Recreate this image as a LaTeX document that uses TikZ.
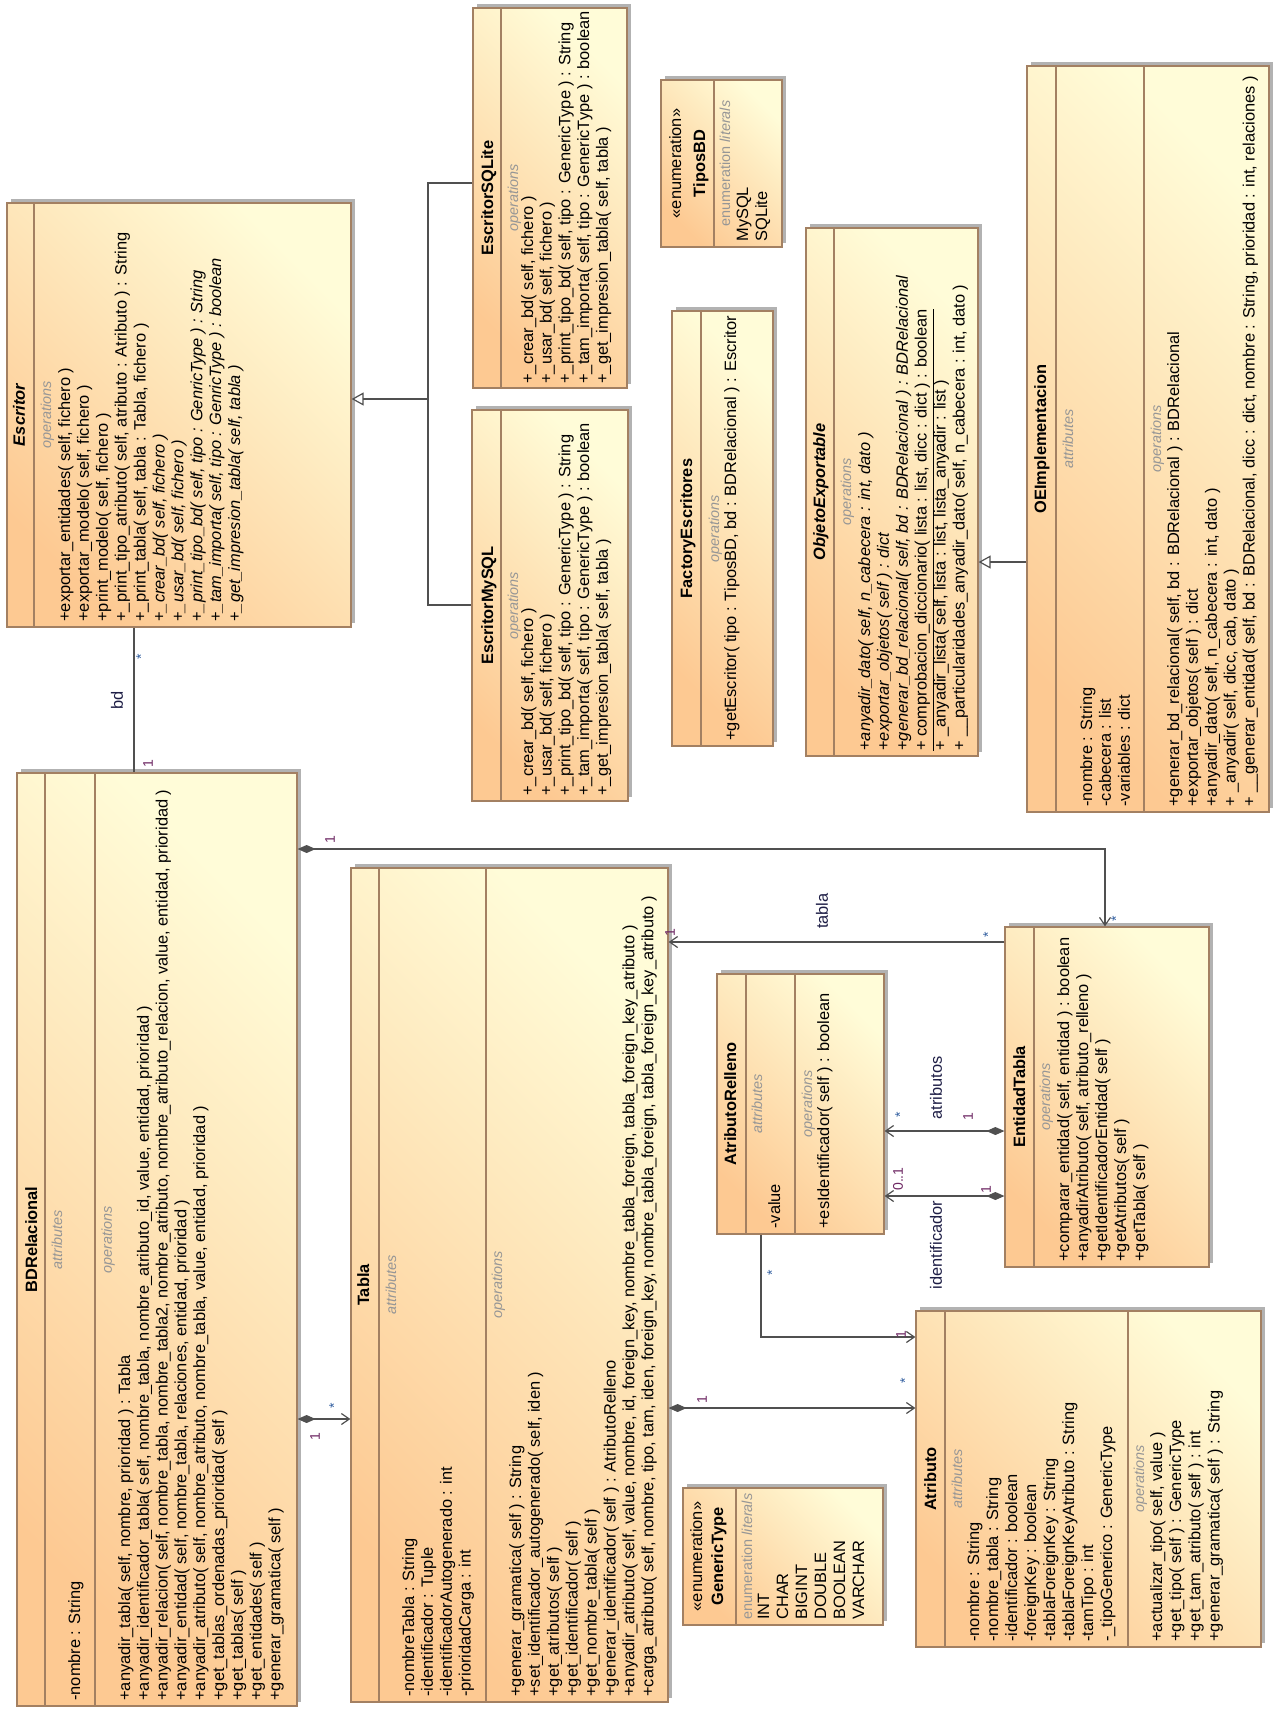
\documentclass[tikz,border=0pt]{standalone}
\usepackage{fontspec}
\setmainfont{Liberation Sans}
\usetikzlibrary{arrows.meta,fit,shadows}

\definecolor{boxlight}{RGB}{255,252,216}
\definecolor{boxdark}{RGB}{253,201,146}
\definecolor{boxline}{RGB}{163,128,98}
\definecolor{linegray}{RGB}{80,80,80}
\definecolor{labelgray}{RGB}{150,150,150}
\definecolor{multone}{RGB}{110,40,100}
\definecolor{multstar}{RGB}{50,95,160}
\definecolor{rolename}{RGB}{30,30,70}

\newcommand{\rowfont}{\fontsize{8.2}{9.5}\selectfont}
\newcommand{\secfont}{\fontsize{7.2}{8}\selectfont\itshape}

\tikzset{
  classbox/.style={draw=boxline, line width=0.6pt, inner sep=0pt,
    top color=boxlight, bottom color=boxdark, shading angle=-45,
    drop shadow={shadow xshift=1.8pt, shadow yshift=1.8pt, fill=black!30, opacity=1}},
  sepline/.style={draw=boxline, line width=0.6pt},
  umlrow/.style={rotate=90, anchor=base west, inner sep=0pt, font=\rowfont},
  clsname/.style={rotate=90, anchor=base, inner sep=0pt, font=\rowfont\bfseries},
  seclabel/.style={rotate=90, anchor=base, inner sep=0pt, font=\secfont, text=labelgray},
  role/.style={rotate=90, inner sep=0pt, font=\rowfont, text=rolename},
  mone/.style={rotate=90, inner sep=0pt, font=\fontsize{7}{8}\selectfont, text=multone},
  mmany/.style={rotate=90, inner sep=0pt, font=\fontsize{7}{8}\selectfont, text=multstar},
  assoc/.style={draw=linegray, line width=0.6pt},
  navig/.style={assoc, -{Straight Barb[length=4pt,width=5.5pt]}},
  compo/.style={assoc, {Diamond[length=9pt,width=4pt]}-{Straight Barb[length=4pt,width=5.5pt]}},
  inherit/.style={assoc, -{Triangle[open,length=6pt,width=6.5pt]}}
}

% rows of a compartment: name prefix, first baseline, step, start, list
\newcommand{\umlrows}[5]{%
  \foreach \txt [count=\i from 0] in {#5}
    \node[umlrow] (#1-\i) at ({#2+#3*\i},#4) {\txt};}

\begin{document}
\catcode`\_=12
\begin{tikzpicture}[x=0.5pt, y=-0.5pt]
\path[use as bounding box, fill=white] (0,0) rectangle (1273,1710);

% class boxes
\node[classbox, fit={(7,203) (351,627)}] (escritor) {};
\node[classbox, fit={(473,8) (627,388)}] (sqlite) {};
\node[classbox, fit={(472,410) (628,801)}] (mysql) {};
\node[classbox, fit={(672,311) (773,746)}] (factory) {};
\node[classbox, fit={(661,80) (782,247)}] (tiposbd) {};
\node[classbox, fit={(806,228) (978,756)}] (objexp) {};
\node[classbox, fit={(1027,66) (1269,812)}] (oeimpl) {};
\node[classbox, fit={(17,773) (297,1706)}] (bdr) {};
\node[classbox, fit={(351,868) (668,1702)}] (tabla) {};
\node[classbox, fit={(683,1488) (883,1625)}] (generic) {};
\node[classbox, fit={(717,974) (884,1234)}] (relleno) {};
\node[classbox, fit={(1005,927) (1209,1267)}] (entidad) {};
\node[classbox, fit={(916,1311) (1261,1647)}] (atributo) {};

% compartments
\foreach \n/\x in {escritor/34, sqlite/501, mysql/501, factory/701, tiposbd/714,
  objexp/834, oeimpl/1056, oeimpl/1144, bdr/45, bdr/95, tabla/379, tabla/486,
  generic/736, relleno/746, relleno/795, entidad/1034, atributo/945, atributo/1128}
  \draw[sepline] (\n.north -| \x,0) -- (\n.south -| \x,0);

% Escritor
\node[clsname, font=\rowfont\bfseries\itshape] (escritor-name) at (25,415) {Escritor};
\node[seclabel] (escritor-sec) at (51,415) {operations};
\umlrows{escritor-op}{70}{18.9}{622}{%
{+exportar_entidades( self, fichero )},%
{+exportar_modelo( self, fichero )},%
{+print_modelo( self, fichero )},%
{+_print_tipo_atributo( self, atributo : Atributo ) : String},%
{+_print_tabla( self, tabla : Tabla, fichero )},%
{+\textit{_crear_bd( self, fichero )}},%
{+\textit{_usar_bd( self, fichero )}},%
{+\textit{_print_tipo_bd( self, tipo : GenricType ) : String}},%
{+\textit{_tam_importa( self, tipo : GenricType ) : boolean}},%
{+\textit{_get_impresion_tabla( self, tabla )}}}

% EscritorSQLite and EscritorMySQL
\node[clsname] (sqlite-name) at (493,198) {EscritorSQLite};
\node[seclabel] (sqlite-sec) at (518,198) {operations};
\umlrows{sqlite-op}{533}{18.7}{384}{%
{+_crear_bd( self, fichero )},%
{+_usar_bd( self, fichero )},%
{+_print_tipo_bd( self, tipo : GenericType ) : String},%
{+_tam_importa( self, tipo : GenericType ) : boolean},%
{+_get_impresion_tabla( self, tabla )}}
\node[clsname] (mysql-name) at (493,605.5) {EscritorMySQL};
\node[seclabel] (mysql-sec) at (518,605.5) {operations};
\umlrows{mysql-op}{533}{18.7}{796}{%
{+_crear_bd( self, fichero )},%
{+_usar_bd( self, fichero )},%
{+_print_tipo_bd( self, tipo : GenericType ) : String},%
{+_tam_importa( self, tipo : GenericType ) : boolean},%
{+_get_impresion_tabla( self, tabla )}}

% FactoryEscritores
\node[clsname] (factory-name) at (692,528.5) {FactoryEscritores};
\node[seclabel] (factory-sec) at (719,528.5) {operations};
\umlrows{factory-op}{736}{18.9}{741}{%
{+getEscritor( tipo : TiposBD, bd : BDRelacional ) : Escritor}}

% TiposBD
\node[umlrow, anchor=base] (tiposbd-st) at (681,163.5) {«enumeration»};
\node[clsname] (tiposbd-name) at (705,163.5) {TiposBD};
\node[seclabel] (tiposbd-sec) at (730,163.5) {\upshape enumeration \itshape literals};
\umlrows{tiposbd-lit}{748}{19}{242}{MySQL,SQLite}

% ObjetoExportable
\node[clsname, font=\rowfont\bfseries\itshape] (objexp-name) at (825,492) {ObjetoExportable};
\node[seclabel] (objexp-sec) at (851,492) {operations};
\umlrows{objexp-op}{870}{18.9}{751}{%
{+\textit{anyadir_dato( self, n_cabecera : int, dato )}},%
{+\textit{exportar_objetos( self ) : dict}},%
{+\textit{generar_bd_relacional( self, bd : BDRelacional ) : BDRelacional}},%
{\underline{+ comprobacion_diccionario( lista : list, dicc : dict ) : boolean}},%
{+ _anyadir_lista( self, lista : list, lista_anyadir : list )},%
{+ __particularidades_anyadir_dato( self, n_cabecera : int, dato )}}

% OEImplementacion
\node[clsname] (oeimpl-name) at (1046,439) {OEImplementacion};
\node[seclabel] (oeimpl-attr) at (1073,439) {attributes};
\umlrows{oeimpl-at}{1092}{18.9}{807}{%
{-nombre : String},{-cabecera : list},{-variables : dict}}
\node[seclabel] (oeimpl-sec) at (1161,439) {operations};
\umlrows{oeimpl-op}{1179}{18.9}{807}{%
{+generar_bd_relacional( self, bd : BDRelacional ) : BDRelacional},%
{+exportar_objetos( self ) : dict},%
{+anyadir_dato( self, n_cabecera : int, dato )},%
{+ _anyadir( self, dicc, cab, dato )},%
{+ __generar_entidad( self, bd : BDRelacional, dicc : dict, nombre : String, prioridad : int, relaciones )}}

% BDRelacional
\node[clsname] (bdr-name) at (37,1239.5) {BDRelacional};
\node[seclabel] (bdr-attr) at (62,1239.5) {attributes};
\umlrows{bdr-at}{80}{18.8}{1701}{{-nombre : String}}
\node[seclabel] (bdr-sec) at (112,1239.5) {operations};
\umlrows{bdr-op}{130}{18.8}{1701}{%
{+anyadir_tabla( self, nombre, prioridad ) : Tabla},%
{+anyadir_identificador_tabla( self, nombre_tabla, nombre_atributo_id, value, entidad, prioridad )},%
{+anyadir_relacion( self, nombre_tabla, nombre_tabla2, nombre_atributo, nombre_atributo_relacion, value, entidad, prioridad )},%
{+anyadir_entidad( self, nombre_tabla, relaciones, entidad, prioridad )},%
{+anyadir_atributo( self, nombre_atributo, nombre_tabla, value, entidad, prioridad )},%
{+get_tablas_ordenadas_prioridad( self )},%
{+get_tablas( self )},%
{+get_entidades( self )},%
{+generar_gramatica( self )}}

% Tabla
\node[clsname] (tabla-name) at (369,1285) {Tabla};
\node[seclabel] (tabla-attr) at (396,1285) {attributes};
\umlrows{tabla-at}{414}{18.9}{1697}{%
{-nombreTabla : String},%
{-identificador : Tuple},%
{-identificadorAutogenerado : int},%
{-prioridadCarga : int}}
\node[seclabel] (tabla-sec) at (502,1285) {operations};
\umlrows{tabla-op}{521}{18.9}{1697}{%
{+generar_gramatica( self ) : String},%
{+set_identificador_autogenerado( self, iden )},%
{+get_atributos( self )},%
{+get_identificador( self )},%
{+get_nombre_tabla( self )},%
{+generar_identificador( self ) : AtributoRelleno},%
{+anyadir_atributo( self, value, nombre, id, foreign_key, nombre_tabla_foreign, tabla_foreign_key_atributo )},%
{+carga_atributo( self, nombre, tipo, tam, iden, foreign_key, nombre_tabla_foreign, tabla_foreign_key_atributo )}}

% GenericType
\node[umlrow, anchor=base] (generic-st) at (702,1556.5) {«enumeration»};
\node[clsname] (generic-name) at (723,1556.5) {GenericType};
\node[seclabel] (generic-sec) at (752,1556.5) {\upshape enumeration \itshape literals};
\umlrows{generic-lit}{769}{19}{1620}{INT,CHAR,BIGINT,DOUBLE,BOOLEAN,VARCHAR}

% AtributoRelleno
\node[clsname] (relleno-name) at (736,1104) {AtributoRelleno};
\node[seclabel] (relleno-attr) at (762,1104) {attributes};
\umlrows{relleno-at}{780}{18.9}{1229}{{-value}}
\node[seclabel] (relleno-sec) at (812,1104) {operations};
\umlrows{relleno-op}{829}{18.9}{1229}{{+esIdentificador( self ) : boolean}}

% EntidadTabla
\node[clsname] (entidad-name) at (1025,1097) {EntidadTabla};
\node[seclabel] (entidad-sec) at (1050,1097) {operations};
\umlrows{entidad-op}{1069}{19}{1262}{%
{+comparar_entidad( self, entidad ) : boolean},%
{+anyadirAtributo( self, atributo_relleno )},%
{+getIdentificadorEntidad( self )},%
{+getAtributos( self )},%
{+getTabla( self )}}

% Atributo
\node[clsname] (atributo-name) at (936,1479) {Atributo};
\node[seclabel] (atributo-attr) at (962,1479) {attributes};
\umlrows{atributo-at}{979}{19}{1642}{%
{-nombre : String},%
{-nombre_tabla : String},%
{-identificador : boolean},%
{-foreignKey : boolean},%
{-tablaForeignKey : String},%
{-tablaForeignKeyAtributo : String},%
{-tamTipo : int},%
{-_tipoGenerico : GenericType}}
\node[seclabel] (atributo-sec) at (1144,1479) {operations};
\umlrows{atributo-op}{1162}{19.2}{1642}{%
{+actualizar_tipo( self, value )},%
{+get_tipo( self ) : GenericType},%
{+get_tam_atributo( self ) : int},%
{+generar_gramatica( self ) : String}}

% connectors
\coordinate (bdx) at (134,0);
\draw[assoc] (escritor.south -| bdx) -- (bdr.north -| bdx);
\coordinate (gsq) at (428,183);
\coordinate (gmy) at (428,605);
\coordinate (gmid) at (428,399);
\draw[assoc] (sqlite.west |- gsq) -- (gsq) -- (gmy) -- (mysql.west |- gmy);
\draw[inherit] (gmid) -- (escritor.east |- gmid);
\coordinate (goe) at (0,562);
\draw[inherit] (oeimpl.west |- goe) -- (objexp.east |- goe);
\coordinate (bend) at (1105,849);
\draw[compo] (bdr.east |- bend) -- (bend) -- (entidad.north -| bend);
\coordinate (ytabla) at (0,942);
\draw[navig] (entidad.west |- ytabla) -- (tabla.east |- ytabla);
\coordinate (ybdt) at (0,1419);
\draw[compo] (bdr.east |- ybdt) -- (tabla.west |- ybdt);
\coordinate (ytat) at (0,1408);
\draw[compo] (tabla.east |- ytat) -- (atributo.west |- ytat);
\coordinate (rbend) at (761,1337);
\draw[navig] (relleno.south -| rbend) -- (rbend) -- (atributo.west |- rbend);
\coordinate (yatr) at (0,1131);
\draw[compo] (entidad.west |- yatr) -- (relleno.east |- yatr);
\coordinate (yid) at (0,1196);
\draw[compo] (entidad.west |- yid) -- (relleno.east |- yid);

% roles and multiplicities
\node[role] (bd-role) at (117,700) {bd};
\node[mmany] (bd-m1) at (141,657) {*};
\node[mone] (bd-m2) at (148,764) {1};
\node[mone] (ent-m1) at (330,840) {1};
\node[mmany] (ent-m2) at (1116,919) {*};
\node[role] (tabla-role) at (822,911) {tabla};
\node[mmany] (tabla-m1) at (988,935) {*};
\node[mone] (tabla-m2) at (670,933) {1};
\node[mmany] (bdt-m1) at (334,1406) {*};
\node[mone] (bdt-m2) at (315,1437) {1};
\node[mone] (tat-m1) at (702,1400) {1};
\node[mmany] (tat-m2) at (905,1381) {*};
\node[mmany] (rat-m1) at (772,1273) {*};
\node[mone] (rat-m2) at (901,1335) {1};
\node[mmany] (atr-m1) at (900,1115) {*};
\node[role] (atr-role) at (936,1088) {atributos};
\node[mone] (atr-m2) at (968,1117) {1};
\node[mone] (id-m1) at (898,1179) {0..1};
\node[mone] (id-m2) at (986,1190) {1};
\node[role] (id-role) at (936,1245) {identificador};
\end{tikzpicture}
\end{document}
